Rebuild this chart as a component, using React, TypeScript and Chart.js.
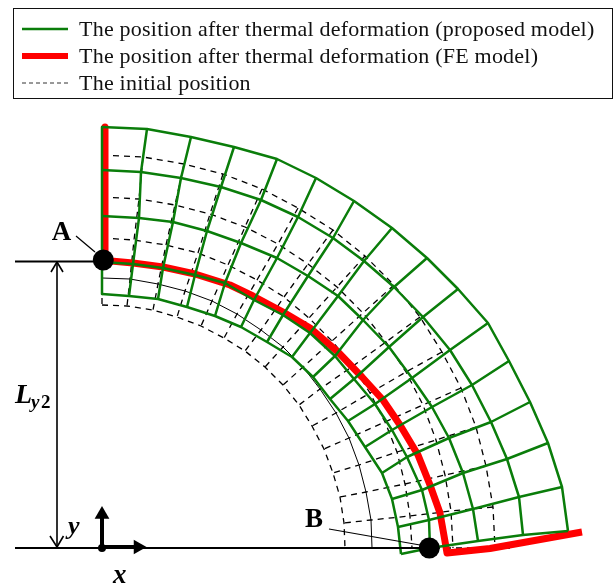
import React, { useEffect, useRef } from "react";
import { Chart, registerables } from "chart.js";

Chart.register(...registerables);

// Values are in the picture's length units, measured from the x-y origin.
const greenX1 = [0, 45, 89, 132, 175, 214, 252, 290, 325, 356, 386, 407, 428, 446, 460, 466];
const greenY1 = [421, 419, 411, 401, 389, 370, 347, 320, 290, 259, 225, 187, 146, 105, 61, 17];
const greenX2 = [0, 39, 79, 119, 159, 196, 231, 262, 292, 321, 348, 370, 389, 405, 417, 421];
const greenY2 = [378, 376, 370, 361, 348, 331, 310, 287, 261, 231, 198, 163, 126, 89, 51, 13];
const greenX3 = [0, 37, 71, 105, 139, 175, 206, 236, 261, 287, 310, 330, 347, 361, 371, 376];
const greenY3 = [332, 330, 326, 317, 305, 290, 272, 252, 228, 201, 170, 141, 110, 75, 39, 7];
const greenX4 = [0, 31, 61, 93, 123, 152, 181, 208, 233, 252, 273, 290, 305, 320, 327, 328];
const greenY4 = [286, 284, 280, 273, 265, 248, 233, 215, 192, 169, 144, 118, 91, 58, 28, 0];
const greenX5 = [0, 27, 56, 85, 113, 139, 165, 190, 211, 228, 246, 263, 280, 290, 296, 299];
const greenY5 = [254, 252, 249, 241, 232, 221, 206, 191, 171, 149, 127, 101, 75, 49, 21, -6];

const initX1 = [0, 41, 82, 121, 160, 196, 231, 263, 292, 318, 340, 359, 374, 384, 391, 393];
const initY1 = [393, 391, 384, 374, 359, 340, 318, 292, 263, 231, 196, 160, 121, 82, 41, 0];
const initX2 = [0, 37, 73, 108, 143, 176, 206, 235, 261, 284, 304, 321, 334, 343, 349, 351];
const initY2 = [351, 349, 343, 334, 321, 304, 284, 261, 235, 206, 176, 143, 108, 73, 37, 0];
const initX3 = [0, 32, 64, 96, 126, 155, 182, 207, 230, 251, 268, 283, 295, 303, 308, 310];
const initY3 = [310, 308, 303, 295, 283, 268, 251, 230, 207, 182, 155, 126, 96, 64, 32, 0];
const initX4 = [0, 28, 56, 83, 110, 135, 159, 181, 201, 218, 234, 247, 257, 264, 269, 270];
const initY4 = [270, 269, 264, 257, 247, 234, 218, 201, 181, 159, 135, 110, 83, 56, 28, 0];
const initX5 = [0, 25, 51, 75, 99, 122, 143, 163, 181, 197, 210, 222, 231, 238, 242, 243];
const initY5 = [243, 242, 238, 231, 222, 210, 197, 181, 163, 143, 122, 99, 75, 51, 25, 0];

const feWallX = [3, 3];
const feWallY = [421, 288];
const feArcX = [9, 31, 61, 93, 128, 151, 181, 208, 236, 260, 281, 298, 316, 328, 338, 344, 345, 388, 480];
const feArcY = [287, 285, 281, 274, 263, 252, 236, 220, 196, 171, 148, 123, 93, 63, 35, 1, -5, -0.5, 16];

const legendLabels = [
  "The position after thermal deformation (proposed model)",
  "The position after thermal deformation (FE model)",
  "The initial position",
];

type XY = { x: number; y: number };
const zip = (xs: number[], ys: number[]): XY[] => xs.map((x, i) => ({ x, y: ys[i] }));

const GREEN = "#0a7d0a";
const RED = "#ff0000";

function line(label: string, data: XY[], color: string, width: number, order: number, dash: number[] = []) {
  return {
    label,
    data,
    showLine: true,
    borderColor: color,
    backgroundColor: color,
    borderWidth: width,
    borderDash: dash,
    pointRadius: 0,
    tension: 0,
    order,
    borderCapStyle: "butt",
    borderJoinStyle: "round",
  };
}

function marker(label: string, data: XY[], radius: number, style: string, rotation: number, order: number) {
  return {
    label,
    data,
    showLine: false,
    pointRadius: radius,
    pointStyle: style,
    pointRotation: rotation,
    pointBackgroundColor: "#000",
    pointBorderWidth: 0,
    backgroundColor: "#000",
    order,
  };
}

function buildDatasets() {
  const gx = [greenX1, greenX2, greenX3, greenX4, greenX5];
  const gy = [greenY1, greenY2, greenY3, greenY4, greenY5];
  const ix = [initX1, initX2, initX3, initX4, initX5];
  const iy = [initY1, initY2, initY3, initY4, initY5];
  const sets: any[] = [];
  ix.forEach((xs, a) => {
    const thin = a === 3;
    sets.push(line("initial arc", zip(xs, iy[a]), "#000", thin ? 1 : 1.3, 5, thin ? [] : [6, 5]));
  });
  greenX1.forEach((_, k) => {
    sets.push(
      line("initial radial", ix.map((xs, a) => ({ x: xs[k], y: iy[a][k] })), "#000", 1.3, 5, [6, 5])
    );
  });
  sets.push(line("initial tail", [{ x: 393, y: 0 }, { x: 408, y: 0 }], "#000", 1.3, 5, [6, 5]));
  sets.push(line("FE wall", zip(feWallX, feWallY), RED, 7, 4));
  sets.push(line("FE surface", zip(feArcX, feArcY), RED, 7, 4));
  gx.forEach((xs, a) => sets.push(line("proposed arc", zip(xs, gy[a]), GREEN, 2.5, 3)));
  greenX1.forEach((_, k) => {
    sets.push(line("proposed radial", gx.map((xs, a) => ({ x: xs[k], y: gy[a][k] })), GREEN, 2.5, 3));
  });
  // dimension lines and arrows
  sets.push(line("dim top", [{ x: -87, y: 286.5 }, { x: 0, y: 286.5 }], "#000", 2, 2));
  sets.push(line("dim base", [{ x: -87, y: 0 }, { x: 327, y: 0 }], "#000", 2, 2));
  sets.push(line("Ly2", [{ x: -45, y: 286 }, { x: -45, y: 1 }], "#000", 1.6, 2));
  sets.push(line("Ly2 head top", [{ x: -51, y: 276 }, { x: -45, y: 286 }, { x: -39, y: 276 }], "#000", 1.6, 2));
  sets.push(line("Ly2 head bottom", [{ x: -52, y: 12 }, { x: -45, y: 1 }, { x: -38.5, y: 12 }], "#000", 1.6, 2));
  sets.push(line("y axis", [{ x: 0, y: 1 }, { x: 0, y: 32 }], "#000", 4, 2));
  sets.push(line("x axis", [{ x: 0, y: 1 }, { x: 32, y: 1 }], "#000", 4, 2));
  sets.push(marker("y tip", [{ x: 0, y: 33.5 }], 8.5, "triangle", 0, 1));
  sets.push(marker("x tip", [{ x: 36, y: 1 }], 8.5, "triangle", 90, 1));
  sets.push(marker("origin", [{ x: 0, y: 0 }], 4, "circle", 0, 1));
  sets.push(line("A leader", [{ x: -26, y: 312 }, { x: -7, y: 296 }], "#000", 1.2, 2));
  sets.push(line("B leader", [{ x: 227, y: 19 }, { x: 318, y: 3 }], "#000", 1.2, 2));
  sets.push(marker("A", [{ x: 1.3, y: 288 }], 10.5, "circle", 0, 1));
  sets.push(marker("B", [{ x: 327.3, y: 0 }], 10.5, "circle", 0, 1));
  return sets;
}

const SERIF = '"Liberation Serif", serif';

const annotate = {
  id: "annotate",
  afterDatasetsDraw(chart: any) {
    const { ctx } = chart;
    const sx = chart.scales.x;
    const sy = chart.scales.y;
    const put = (t: string, x: number, y: number, font: string, align: CanvasTextAlign = "left") => {
      ctx.font = font;
      ctx.textAlign = align;
      ctx.textBaseline = "alphabetic";
      ctx.fillStyle = "#000";
      ctx.fillText(t, sx.getPixelForValue(x), sy.getPixelForValue(y));
    };
    ctx.save();
    put("A", -40.5, 308, `bold 27px ${SERIF}`, "center");
    put("B", 212, 21, `bold 27px ${SERIF}`, "center");
    put("L", -87, 145, `italic bold 28px ${SERIF}`);
    put("y", -71, 140, `italic bold 19px ${SERIF}`);
    put("2", -61, 140, `bold 19px ${SERIF}`);
    put("y", -34, 14, `italic bold 26px ${SERIF}`);
    put("x", 11, -35, `italic bold 27px ${SERIF}`);

    // legend
    ctx.strokeStyle = "#111";
    ctx.lineWidth = 1;
    ctx.setLineDash([]);
    ctx.strokeRect(13.5, 8.5, 599, 90);
    const rowY = [29, 56, 83];
    const styles = [
      { c: GREEN, w: 2.5, d: [] as number[] },
      { c: RED, w: 6, d: [] as number[] },
      { c: "#333", w: 1, d: [4, 3] },
    ];
    legendLabels.forEach((t, i) => {
      ctx.strokeStyle = styles[i].c;
      ctx.lineWidth = styles[i].w;
      ctx.setLineDash(styles[i].d);
      ctx.beginPath();
      ctx.moveTo(22, rowY[i]);
      ctx.lineTo(68, rowY[i]);
      ctx.stroke();
      ctx.font = `22px ${SERIF}`;
      ctx.letterSpacing = "0.22px";
      ctx.textAlign = "left";
      ctx.textBaseline = "alphabetic";
      ctx.fillStyle = "#111";
      ctx.fillText(t, 79, rowY[i] + 7);
      ctx.letterSpacing = "0px";
    });
    ctx.restore();
  },
};

export default function App() {
  const ref = useRef<HTMLCanvasElement>(null);
  useEffect(() => {
    const chart = new Chart(ref.current as HTMLCanvasElement, {
      type: "scatter",
      data: { datasets: buildDatasets() },
      options: {
        responsive: false,
        animation: false,
        layout: { padding: 0, autoPadding: false },
        plugins: { legend: { display: false }, tooltip: { enabled: false } },
        scales: {
          x: { type: "linear", min: -102, max: 512, display: false },
          y: { type: "linear", min: -38, max: 548, display: false },
        },
      },
      plugins: [annotate],
    } as any);
    return () => chart.destroy();
  }, []);
  return (
    <div style={{ position: "absolute", left: 0, top: 0, width: 614, height: 586, background: "#fff" }}>
      <canvas ref={ref} width={614} height={586} style={{ display: "block" }} />
    </div>
  );
}
